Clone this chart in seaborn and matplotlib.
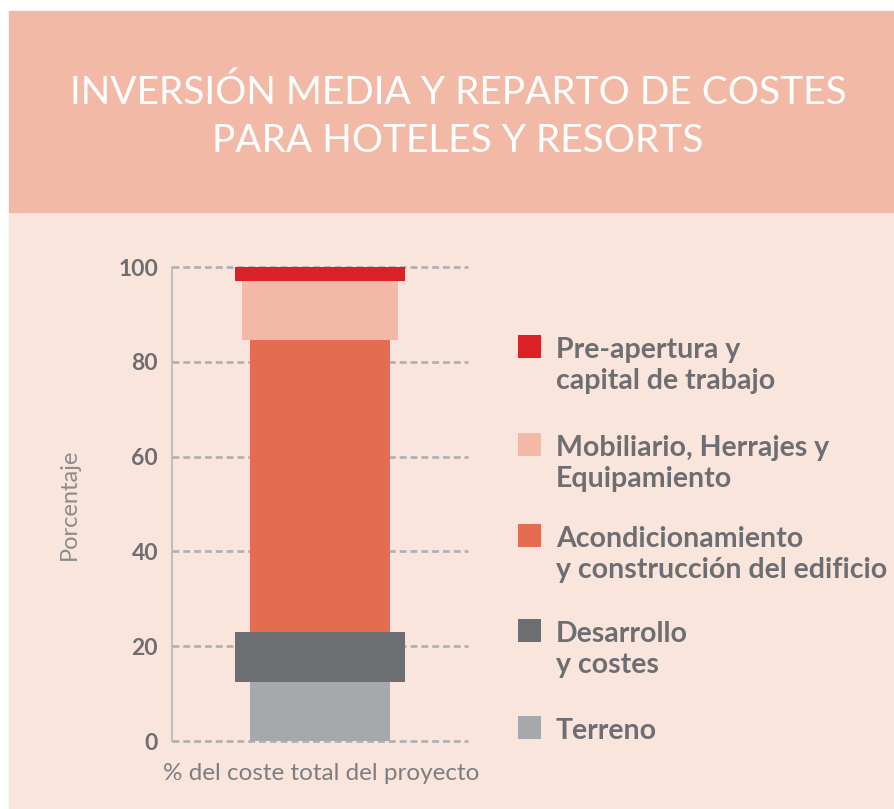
import matplotlib
matplotlib.use("Agg")
import matplotlib.pyplot as plt
from matplotlib.patches import Rectangle
import seaborn as sns
import numpy as np

# datos (de abajo arriba)
categorias = ["Terreno", "Desarrollo\ny costes",
              "Acondicionamiento\ny construcción del edificio",
              "Mobiliario, Herrajes y\nEquipamiento",
              "Pre-apertura y\ncapital de trabajo"]
porcentajes = [12.5, 10.5, 61.5, 12.5, 3.0]
colores = ["#A7A8AB", "#6D6E72", "#E46C51", "#F2B9A6", "#DA2128"]
yticks = [0, 20, 40, 60, 80, 100]

titulo = ["INVERSIÓN MEDIA Y REPARTO DE COSTES", "PARA HOTELES Y RESORTS"]
ylabel = "Porcentaje"
xlabel = "% del coste total del proyecto"

# anchos de cada tramo (solo estilo)
anchos = [0.94, 1.15, 0.94, 1.05, 1.15]

sns.set_theme(style="white")
plt.rcParams['font.family'] = ['Lato', 'DejaVu Sans']

W, H = 895, 809
fig = plt.figure(figsize=(W / 100, H / 100), dpi=100)
fig.patch.set_facecolor("white")


def fx(px):
    return px / W


def fy(py):
    return 1 - py / H


# fondos
fig.add_artist(Rectangle((fx(9), fy(809)), fx(895 - 9), (809 - 212) / H,
                         transform=fig.transFigure, color="#FAE5DD", zorder=0))
fig.add_artist(Rectangle((fx(9), fy(212)), fx(895 - 9), (212 - 11) / H,
                         transform=fig.transFigure, color="#F2BAA6", zorder=0))

for k, linea in enumerate(titulo):
    fig.text(fx(458), fy(104 + 48 * k), linea, ha="center", va="baseline",
             color="white", fontsize=28, fontweight="normal")

ax = fig.add_axes([fx(172), fy(741), fx(468 - 172), (741 - 267) / H])
ax.set_facecolor("none")

bases = np.concatenate([[0], np.cumsum(porcentajes)[:-1]])
for val, base, col, w in zip(porcentajes, bases, colores, anchos):
    ax.bar(0, val, bottom=base, width=w, color=col, linewidth=0, zorder=3, clip_on=False)

ax.set_xlim(-1, 1)
ax.set_ylim(0, 100)
ax.set_yticks(yticks)
ax.set_yticklabels([str(t) for t in yticks])
ax.set_xticks([])
for t in yticks:
    ax.axhline(t, color="#AEAFB2", lw=1.9, ls=(0, (2.6, 1.5)), zorder=1, clip_on=False)

for s in ["top", "right", "bottom"]:
    ax.spines[s].set_visible(False)
ax.spines["left"].set_color("#B3B4B7")
ax.spines["left"].set_linewidth(1.2)

ax.tick_params(axis="y", length=0, pad=10, labelsize=16.5, labelcolor="#6D6E71")
for lab in ax.get_yticklabels():
    lab.set_fontweight("bold")

ax.set_ylabel(ylabel, fontsize=17, color="#8A8B8E")
ax.yaxis.set_label_coords(-0.31, 0.5)
ax.set_xlabel(xlabel, fontsize=17.5, color="#7D7E81")
ax.xaxis.set_label_coords(0.503, -0.068)
ax.xaxis.label.set_va("center")

# leyenda manual (de arriba abajo)
tops = [335, 433, 524, 619, 716]
orden = list(range(len(categorias)))[::-1]
for top, i in zip(tops, orden):
    fig.add_artist(Rectangle((fx(518), fy(top + 23)), fx(23), 23 / H,
                             transform=fig.transFigure, color=colores[i], lw=0))
    for k, linea in enumerate(categorias[i].split("\n")):
        fig.text(fx(556), fy(top + 23 + 31 * k), linea, ha="left", va="baseline",
                 fontsize=20.5, fontweight="bold", color="#6D6E71")

fig.savefig("out.png", dpi=100, facecolor=fig.get_facecolor())
